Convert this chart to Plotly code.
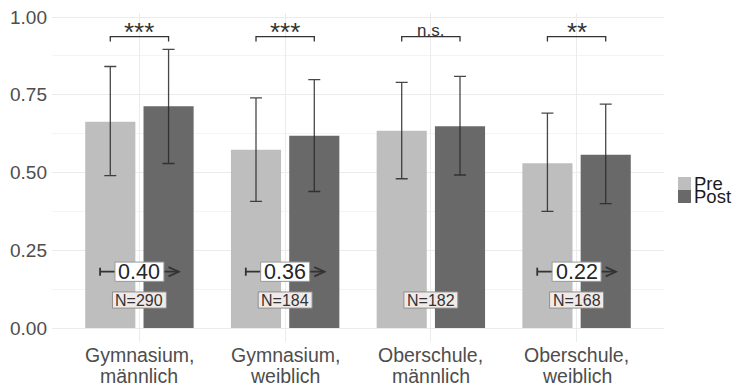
import plotly.graph_objects as go

# ---- data ----
categories = ["Gymnasium,\nmännlich", "Gymnasium,\nweiblich",
              "Oberschule,\nmännlich", "Oberschule,\nweiblich"]
pre_mean = [0.663, 0.573, 0.634, 0.530]
pre_lo = [0.490, 0.407, 0.480, 0.375]
pre_hi = [0.841, 0.740, 0.790, 0.691]
post_mean = [0.713, 0.618, 0.649, 0.557]
post_lo = [0.529, 0.439, 0.492, 0.400]
post_hi = [0.896, 0.799, 0.809, 0.720]
significance = ["***", "***", "n.s.", "**"]
effect_size = ["0.40", "0.36", None, "0.22"]
n_labels = ["N=290", "N=184", "N=182", "N=168"]
series_names = ["Pre", "Post"]
ytick_vals = [0.0, 0.25, 0.5, 0.75, 1.0]
ytick_text = ["0.00", "0.25", "0.50", "0.75", "1.00"]

# ---- style / layout constants ----
W, H = 733, 387
ML, MR, MT, MB = 52, 69, 13, 45
PRE_C, POST_C = "#bebebe", "#696969"
TXT = "#4d4d4d"
DARK = "#333333"
FONT = "Liberation Sans, Arial, sans-serif"
DODGE = 0.2
BRACKET_Y, BRACKET_TICK = 0.937, 0.016
EFFECT_Y, N_Y = 0.181, 0.090
ARROW_HALF = 0.27
EBOX_W, EBOX_H = 0.168, 0.031      # half-width (x units), half-height (y units)
NBOX_W, NBOX_H = 0.185, 0.026

xpos = [i + 1 for i in range(len(categories))]

fig = go.Figure()
for name, mean, lo, hi, col in [
    (series_names[0], pre_mean, pre_lo, pre_hi, PRE_C),
    (series_names[1], post_mean, post_lo, post_hi, POST_C),
]:
    fig.add_trace(go.Bar(
        x=xpos, y=mean, name=name, marker=dict(color=col, line=dict(width=0)),
        error_y=dict(type="data", symmetric=False,
                     array=[h - m for h, m in zip(hi, mean)],
                     arrayminus=[m - l for m, l in zip(mean, lo)],
                     color="rgba(40,40,40,0.85)", thickness=1.3, width=6),
        showlegend=False, hoverinfo="skip",
    ))

shapes = []
annotations = []
for i, x in enumerate(xpos):
    # significance bracket
    x0, x1 = x - DODGE, x + DODGE
    shapes.append(dict(type="path", xref="x", yref="y",
                       path=f"M {x0} {BRACKET_Y - BRACKET_TICK} L {x0} {BRACKET_Y} "
                            f"L {x1} {BRACKET_Y} L {x1} {BRACKET_Y - BRACKET_TICK}",
                       line=dict(color=DARK, width=1.3)))
    is_star = significance[i].startswith("*")
    annotations.append(dict(x=x, y=BRACKET_Y, xref="x", yref="y", text=significance[i],
                            showarrow=False, yanchor="bottom",
                            yshift=-12 if is_star else -5,
                            font=dict(size=26 if is_star else 17, color=DARK, family=FONT)))
    # effect arrow with label box
    if effect_size[i] is not None:
        a0, a1 = x - ARROW_HALF, x + ARROW_HALF
        shapes.append(dict(type="line", xref="x", yref="y", x0=a0, x1=a1,
                           y0=EFFECT_Y, y1=EFFECT_Y, line=dict(color=DARK, width=1.8)))
        shapes.append(dict(type="line", xref="x", yref="y", x0=a0, x1=a0,
                           y0=EFFECT_Y - 0.013, y1=EFFECT_Y + 0.013,
                           line=dict(color=DARK, width=1.8)))
        shapes.append(dict(type="path", xref="x", yref="y",
                           path=f"M {a1 - 0.07} {EFFECT_Y + 0.015} L {a1} {EFFECT_Y} "
                                f"L {a1 - 0.07} {EFFECT_Y - 0.015}",
                           line=dict(color=DARK, width=1.8)))
        shapes.append(dict(type="rect", xref="x", yref="y",
                           x0=x - EBOX_W, x1=x + EBOX_W,
                           y0=EFFECT_Y - EBOX_H, y1=EFFECT_Y + EBOX_H,
                           fillcolor="white", line=dict(color="#9a9a9a", width=1)))
        annotations.append(dict(x=x, y=EFFECT_Y, xref="x", yref="y", text=effect_size[i],
                                showarrow=False, yshift=0,
                                font=dict(size=21.5, color="#262626", family=FONT)))
    # N label
    shapes.append(dict(type="rect", xref="x", yref="y",
                       x0=x - NBOX_W, x1=x + NBOX_W, y0=N_Y - NBOX_H, y1=N_Y + NBOX_H,
                       fillcolor="#f0ebe9", line=dict(color="#8f8f8f", width=1)))
    annotations.append(dict(x=x, y=N_Y, xref="x", yref="y", text=n_labels[i],
                            showarrow=False,
                            font=dict(size=16, color=DARK, family=FONT)))

# pixel -> paper helpers for legend and category labels
pw, ph = W - ML - MR, H - MT - MB
def px(x):
    return (x - ML) / pw
def py(y):
    return (H - MB - y) / ph

# category labels (two lines, tight spacing like the original)
for i, x in enumerate(xpos):
    for j, line in enumerate(categories[i].split("\n")):
        annotations.append(dict(x=x, y=py(355 + 20.5 * j), xref="x", yref="paper",
                                text=line, showarrow=False, yanchor="middle",
                                font=dict(size=19.5, color=TXT, family=FONT)))

# legend
for k, (name, col) in enumerate([(series_names[0], PRE_C), (series_names[1], POST_C)]):
    top = 177 + 13 * k
    shapes.append(dict(type="rect", xref="paper", yref="paper",
                       x0=px(678), x1=px(691), y0=py(top + 13), y1=py(top),
                       fillcolor=col, line=dict(width=0)))
    annotations.append(dict(x=px(692), y=py(top + 6.5), xref="paper", yref="paper",
                            text=name, showarrow=False, xanchor="left", yanchor="middle",
                            font=dict(size=18.5, color="#1a1a1a", family=FONT)))

fig.update_layout(
    width=W, height=H, margin=dict(l=ML, r=MR, t=MT, b=MB, pad=0, autoexpand=False),
    paper_bgcolor="white", plot_bgcolor="white",
    barmode="group", bargap=0.2, bargroupgap=0.14,
    shapes=shapes, annotations=annotations, showlegend=False,
    font=dict(family=FONT, color=TXT),
)
fig.update_xaxes(range=[0.4, 4.6], tickvals=xpos, showticklabels=False, automargin=False,
                 showgrid=True, gridcolor="#ebebeb", gridwidth=1, zeroline=False,
                 showline=False, ticks="")
fig.update_yaxes(range=[-0.045, 1.013], tickvals=ytick_vals, ticktext=ytick_text,
                 automargin=False,
                 showgrid=True, gridcolor="#ebebeb", gridwidth=1, zeroline=False,
                 showline=False, ticks="", ticklabelstandoff=4,
                 minor=dict(dtick=0.125, tick0=0.125, showgrid=True, gridcolor="#f4f4f4", gridwidth=1),
                 tickfont=dict(size=19, color=TXT, family=FONT))

fig.write_html("out.html", config={"displayModeBar": False},
               post_script="document.body.style.margin='0';document.body.style.overflow='hidden';")
